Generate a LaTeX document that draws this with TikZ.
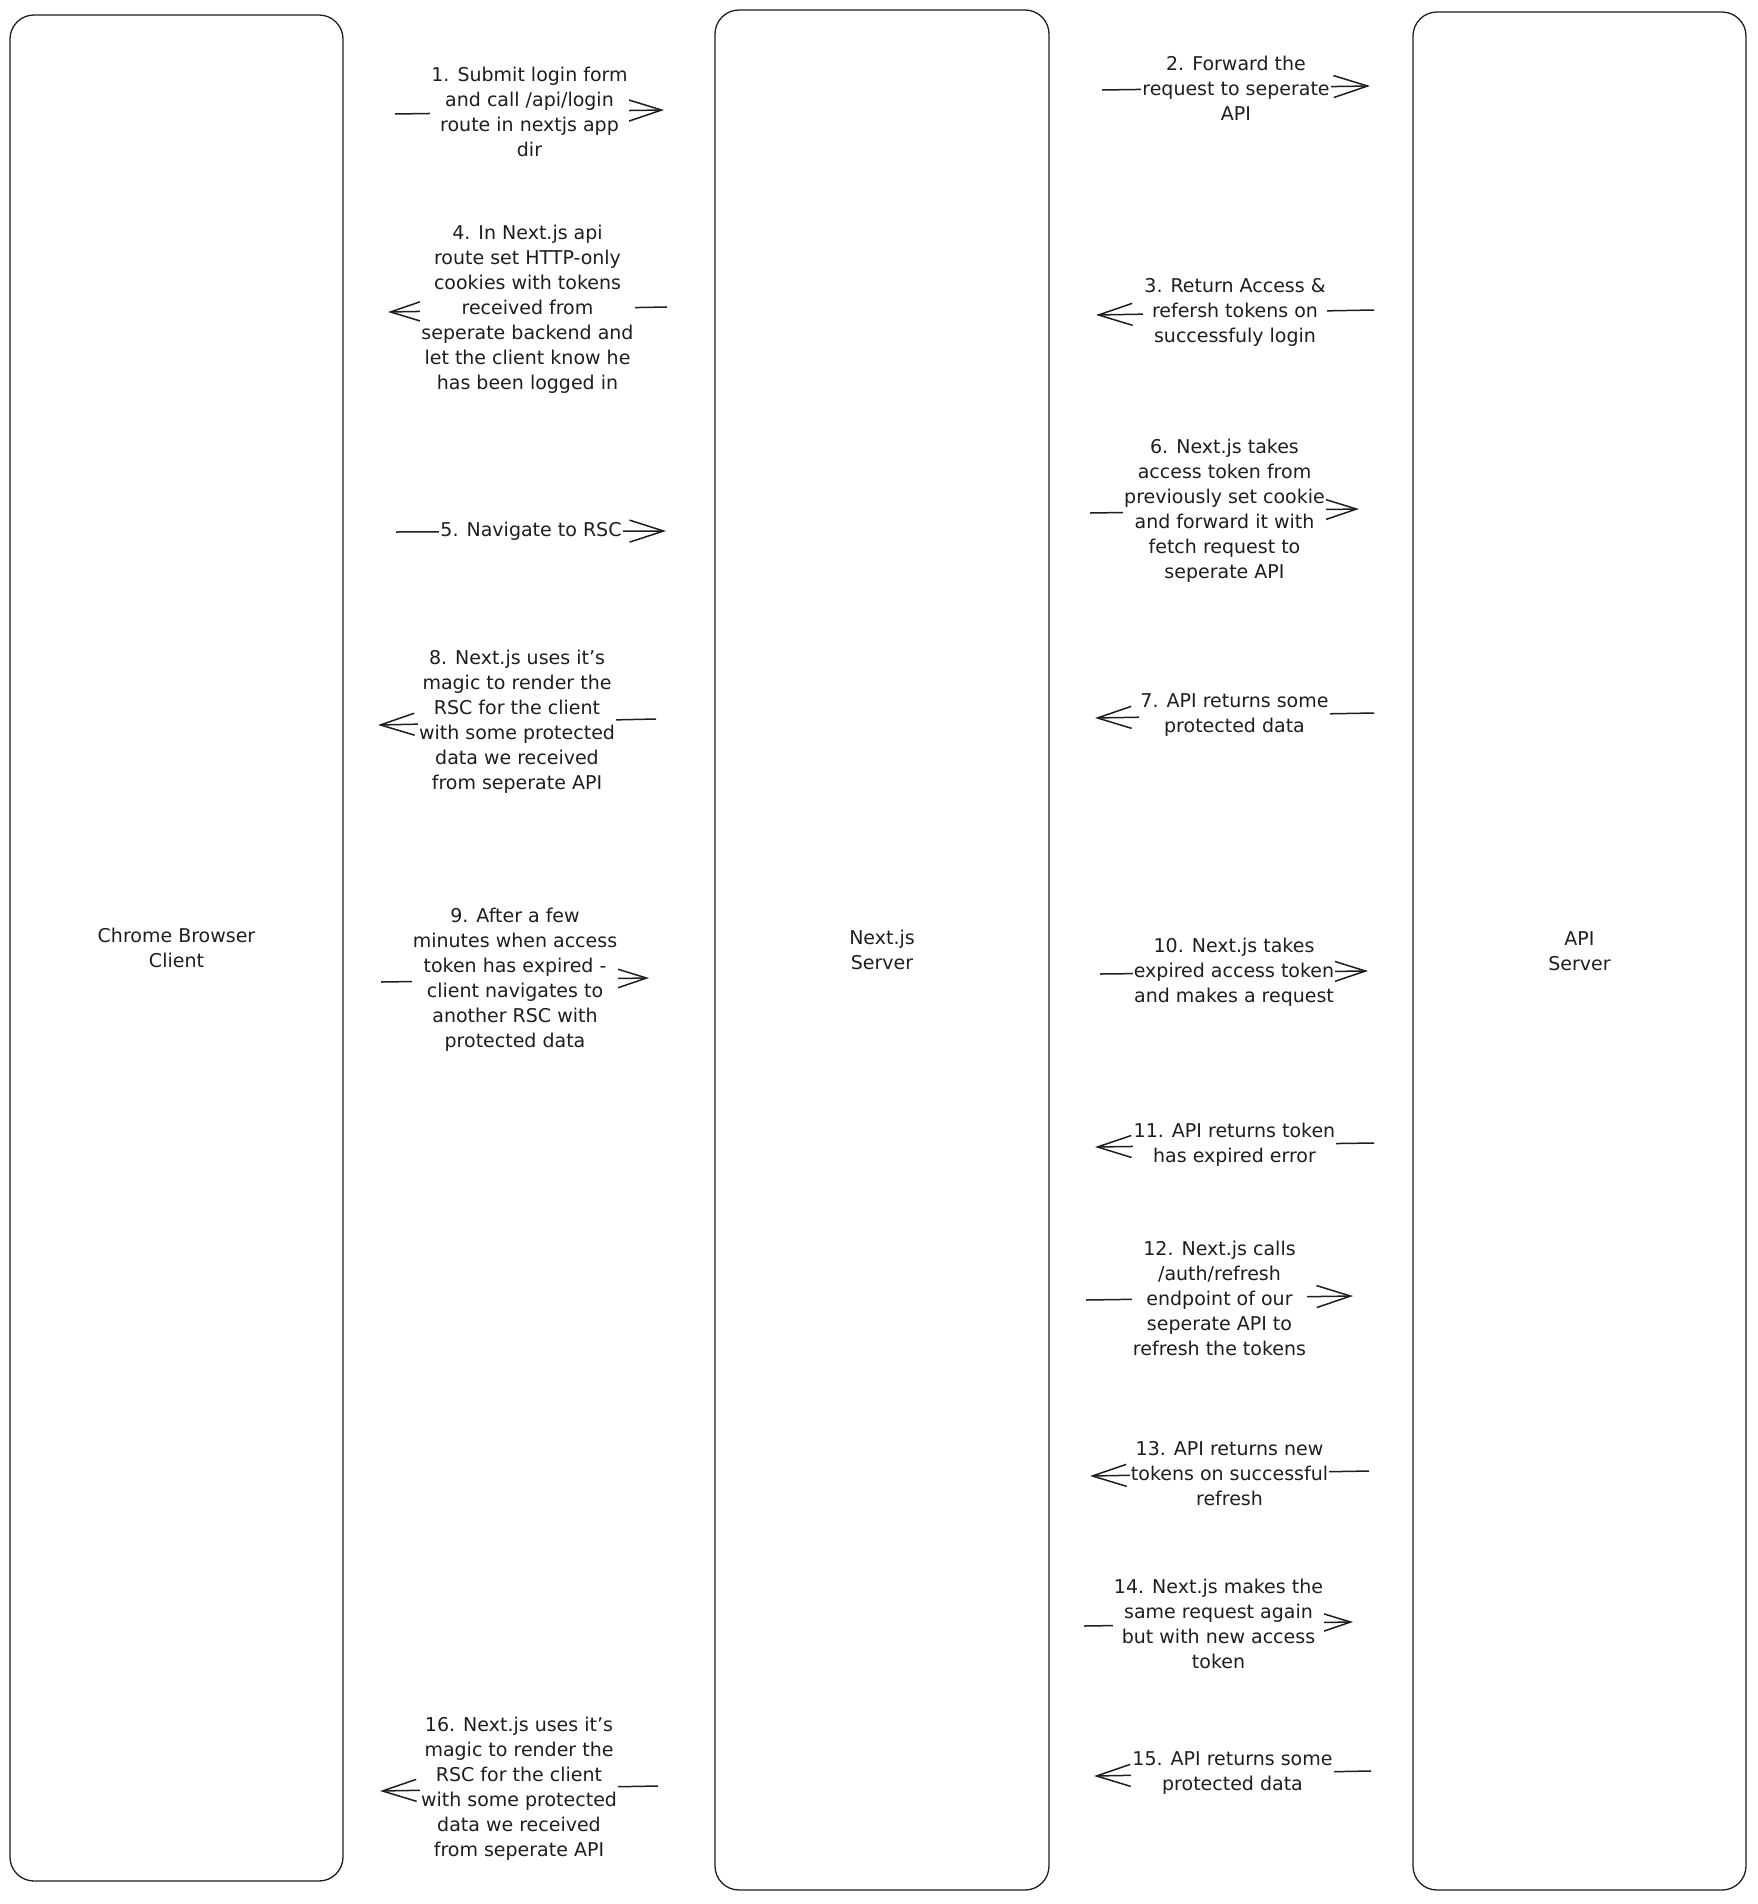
\documentclass[tikz,border=0pt]{standalone}
\usepackage{fontspec}
\setmainfont{DejaVu Sans}
\usetikzlibrary{arrows.meta}

\definecolor{ink}{HTML}{1E1E1E}

\tikzset{
  lane/.style={draw=ink, text=ink, rounded corners=24pt, line width=1.3pt, align=center,
    font=\fontsize{19}{25}\selectfont},
  msg/.style={draw=ink, line width=1.5pt,
    -{Straight Barb[length=34pt,width=22pt,line width=1.5pt]}},
  lbl/.style={fill=white, text=ink, align=center, inner sep=1pt,
    font=\fontsize{19}{25}\selectfont},
}

\begin{document}
\begin{tikzpicture}[x=1pt,y=-1pt]
    \useasboundingbox (0,0) rectangle (1758,1904);
    % the three lanes
    \node[lane, minimum width=333pt, minimum height=1866pt] (client) at (176.5,948) {Chrome Browser\\Client};
    \node[lane, minimum width=334pt, minimum height=1880pt] (nextjs) at (882,950) {Next.js\\Server};
    \node[lane, minimum width=333pt, minimum height=1878pt] (api) at (1579.5,951) {API\\Server};

    % client <-> next.js
    \coordinate (s1) at (395,114);  \coordinate (e1) at (664,110);
    \draw[msg] (s1) -- node[lbl] (m1) {1. Submit login form\\and call /api/login\\route in nextjs app\\dir} (e1);
    \coordinate (s4) at (667,307);  \coordinate (e4) at (388,312);
    \draw[msg] (s4) -- node[lbl] (m4) {4. In Next.js api\\route set HTTP-only\\cookies with tokens\\received from\\seperate backend and\\let the client know he\\has been logged in} (e4);
    \coordinate (s5) at (396,532);  \coordinate (e5) at (666,531);
    \draw[msg] (s5) -- node[lbl] (m5) {5. Navigate to RSC} (e5);
    \coordinate (s8) at (656,719);  \coordinate (e8) at (378,725);
    \draw[msg] (s8) -- node[lbl] (m8) {8. Next.js uses it's\\magic to render the\\RSC for the client\\with some protected\\data we received\\from seperate API} (e8);
    \coordinate (s9) at (381,982);  \coordinate (e9) at (649,978);
    \draw[msg] (s9) -- node[lbl] (m9) {9. After a few\\minutes when access\\token has expired -\\client navigates to\\another RSC with\\protected data} (e9);
    \coordinate (s16) at (658,1786);  \coordinate (e16) at (380,1791);
    \draw[msg] (s16) -- node[lbl] (m16) {16. Next.js uses it's\\magic to render the\\RSC for the client\\with some protected\\data we received\\from seperate API} (e16);

    % next.js <-> api
    \coordinate (s2) at (1102,90);  \coordinate (e2) at (1370,86);
    \draw[msg] (s2) -- node[lbl] (m2) {2. Forward the\\request to seperate\\API} (e2);
    \coordinate (s3) at (1374,310);  \coordinate (e3) at (1096,315);
    \draw[msg] (s3) -- node[lbl] (m3) {3. Return Access \&\\refersh tokens on\\successfuly login} (e3);
    \coordinate (s6) at (1090,513);  \coordinate (e6) at (1359,509);
    \draw[msg] (s6) -- node[lbl] (m6) {6. Next.js takes\\access token from\\previously set cookie\\and forward it with\\fetch request to\\seperate API} (e6);
    \coordinate (s7) at (1374,713);  \coordinate (e7) at (1095,718);
    \draw[msg] (s7) -- node[lbl] (m7) {7. API returns some\\protected data} (e7);
    \coordinate (s10) at (1100,974);  \coordinate (e10) at (1368,971);
    \draw[msg] (s10) -- node[lbl] (m10) {10. Next.js takes\\expired access token\\and makes a request} (e10);
    \coordinate (s11) at (1374,1143);  \coordinate (e11) at (1095,1147);
    \draw[msg] (s11) -- node[lbl] (m11) {11. API returns token\\has expired error} (e11);
    \coordinate (s12) at (1086,1300);  \coordinate (e12) at (1353,1296);
    \draw[msg] (s12) -- node[lbl] (m12) {12. Next.js calls\\/auth/refresh\\endpoint of our\\seperate API to\\refresh the tokens} (e12);
    \coordinate (s13) at (1369,1471);  \coordinate (e13) at (1090,1476);
    \draw[msg] (s13) -- node[lbl] (m13) {13. API returns new\\tokens on successful\\refresh} (e13);
    \coordinate (s14) at (1084,1626);  \coordinate (e14) at (1353,1622);
    \draw[msg] (s14) -- node[lbl] (m14) {14. Next.js makes the\\same request again\\but with new access\\token} (e14);
    \coordinate (s15) at (1371,1771);  \coordinate (e15) at (1094,1776);
    \draw[msg] (s15) -- node[lbl] (m15) {15. API returns some\\protected data} (e15);
\end{tikzpicture}
\end{document}
